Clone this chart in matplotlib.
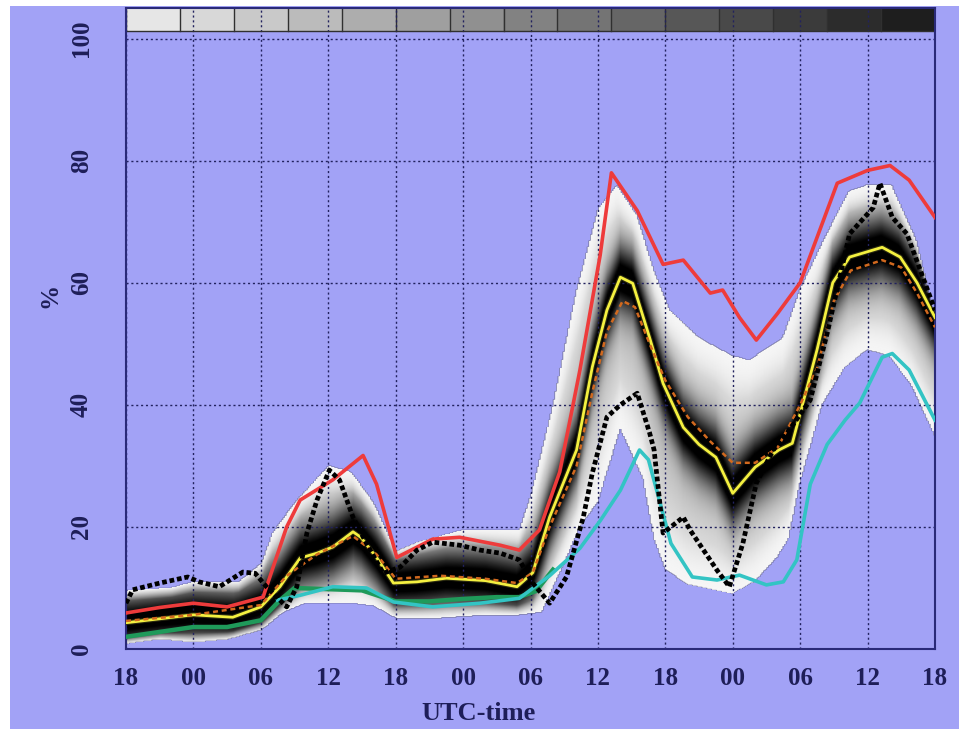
import numpy as np
import matplotlib
matplotlib.use("Agg")
import matplotlib.pyplot as plt
from matplotlib.patches import Rectangle

# forecast hours since 18 UTC of the first day
tick_hours = [0, 6, 12, 18, 24, 30, 36, 42, 48, 54, 60, 66, 72]
tick_labels = ["18", "00", "06", "12", "18", "00", "06", "12", "18", "00", "06", "12", "18"]

# ensemble maximum (red)
red_t = [0, 3, 6, 9, 12.2, 14.3, 15.5, 18.4, 21.1, 22.3, 24.1, 27.3, 29.7, 33.3, 35, 36.8,
         38.6, 40.4, 42.2, 43.2, 45.5, 47.8, 49.6, 52, 53.1, 54.6, 56.1, 58, 60, 63.3, 66,
         68, 69.7, 72]
red_v = [5.9, 6.8, 7.5, 6.9, 8.5, 20, 24.4, 27.7, 31.7, 27, 15, 18, 18.3, 17, 16.2, 19.5,
         29, 45.7, 64.5, 78, 71.8, 63, 63.7, 58.3, 58.8, 54.3, 50.6, 55, 60, 76.3, 78.4,
         79.2, 76.8, 70.7]

# ensemble minimum (cyan)
cyan_t = [13.5, 15.5, 18.4, 21.4, 23.8, 27.3, 31.5, 35, 37.7, 40.4, 42.2, 44, 45.7, 46.5,
          48.5, 50.4, 52.6, 54.6, 57, 58.5, 59.7, 60.9, 62.4, 64, 65.3, 67.3, 68.2, 69.7, 72]
cyan_v = [8.0, 8.8, 10.2, 10.0, 7.7, 6.9, 7.5, 8.3, 12, 16.5, 21, 26, 32.6, 31, 17.3, 11.8,
          11.3, 12.1, 10.5, 11, 14.6, 27, 33.5, 37.5, 40.3, 47.8, 48.4, 45.7, 37.5]

# lower percentile (green)
green_t = [0, 3, 6, 9, 12, 13.7, 15, 18, 21, 24, 27, 30, 33, 35, 36.5, 38]
green_v = [2.0, 2.8, 3.6, 3.6, 4.7, 8, 10, 9.8, 9.6, 7.8, 7.8, 8.2, 8.5, 8.5, 9.5, 13]

# ensemble mean (yellow)
mean_t = [0, 6, 9.5, 12, 13.7, 14.3, 15.5, 17, 18.4, 20.2, 20.9, 22.3, 23.8, 25.9, 28.5, 32,
          34.8, 36.2, 37.7, 40.1, 41.5, 42.8, 44, 45.1, 46.6, 47.8, 49.6, 51, 52.5, 54, 56,
          58.1, 59.3, 61.5, 62.9, 64.4, 67.3, 68.9, 70.4, 72]
mean_v = [4.3, 5.6, 5.2, 6.9, 10.2, 11.8, 14.9, 15.7, 16.7, 19.2, 18.3, 15, 10.8, 11, 11.6,
          11.2, 10.2, 12.5, 21.6, 32.6, 46.2, 55.5, 60.9, 59.9, 51, 43.5, 36.3, 33.5, 31.4,
          25.5, 29.8, 32.6, 33.7, 49, 60, 64.2, 65.8, 64.2, 60, 54.3]

# ensemble median (orange, dashed)
med_t = [0, 6, 12, 14.3, 17, 20.2, 22.3, 24, 28, 32, 34.8, 36.2, 37.7, 40.1, 41.5, 42.8,
         44.2, 45.3, 46.6, 48, 50, 52, 54, 56, 58, 60, 61.5, 63, 64.5, 67.3, 69, 70.4, 72]
med_v = [4.6, 5.6, 7.2, 12, 15.5, 18.5, 15.5, 11.5, 12, 11.5, 10.8, 12.5, 20, 30, 42, 52,
         57, 56, 50, 44, 38, 34, 30.5, 30.5, 33, 40, 46, 57, 62, 63.7, 62.5, 58.3, 52.7]

# observation (black)
obs_t = [0, 0.6, 3, 5.5, 6.5, 8.3, 10.4, 11.5, 12.5, 13.7, 14.3, 15.2, 16.1, 17, 18.1, 19,
         20.2, 21.4, 22.9, 24.4, 25.9, 27.3, 29.7, 31.5, 33.3, 35, 36.2, 37.7, 39.2, 40.7,
         41.5, 42.8, 44, 45.5, 46.6, 47, 47.8, 49.6, 50.2, 52.6, 53.7, 54.9, 56.1, 57.6, 59,
         60.9, 62.4, 64.4, 66.5, 67.1, 68.2, 69.5, 70.6, 72]
obs_v = [7.5, 9.7, 10.8, 11.8, 11, 10.2, 12.6, 12.4, 10.2, 8, 6.9, 10.2, 19, 24.4, 29.3,
         27.7, 21.6, 17.3, 12.4, 13.4, 16.2, 17.5, 17, 16.2, 15.7, 14.6, 10.8, 7.5, 11.8,
         21.6, 28.8, 38, 40, 41.9, 35.4, 32.6, 19, 21.6, 19.5, 12.9, 10.2, 17.3, 27.2, 32.6,
         35.8, 40.8, 51.7, 68, 72.3, 76.3, 70.7, 68, 62.5, 55.5]

# outer edges of the ensemble cloud
hi_t = [0, 4, 6, 10, 12, 13, 15, 18, 20, 22, 24, 26, 28, 30, 34, 35, 36, 38, 40, 42, 43.7,
        45.5, 47, 48.4, 51, 54, 55.5, 58.5, 60, 62.4, 64.4, 66, 68.2, 70.4, 72]
hi_v = [9.5, 10, 11, 11, 14, 19, 24, 30, 29, 24, 16, 17.5, 18.5, 19.5, 19.5, 19.5, 25, 40,
        58, 72, 76, 71, 62, 55.5, 51, 48, 47.3, 51, 58.8, 68, 75, 76, 76, 67, 55]
lo_t = [0, 3, 6, 9, 12, 14, 16, 20, 22, 24, 28, 32, 35, 37, 39, 40.4, 42, 44, 46, 47, 48,
        50, 54, 56, 58, 59, 60, 62, 64, 66, 68, 70, 72]
lo_v = [0.8, 1.5, 1.0, 1.5, 3, 6, 7.5, 7.5, 7, 5, 5, 5.5, 5.5, 6, 14, 20, 24, 36, 28, 18,
        13, 10.5, 9, 11, 15, 18, 27, 40, 46, 49, 48, 43, 35]

n_classes = 15

bg = "#a2a2f6"
navy = "#1e1e58"
plt.rcParams["font.family"] = ["Liberation Serif", "DejaVu Serif"]
plt.rcParams["font.weight"] = "bold"

fig = plt.figure(figsize=(9.59, 7.29), dpi=100, facecolor="white")
fig.patches.append(Rectangle((10 / 959, 0), 1, 1 - 6 / 729, transform=fig.transFigure,
                             facecolor=bg, edgecolor="none", zorder=-10))
ax = fig.add_axes([126 / 959, 80 / 729, 809 / 959, 641 / 729])
ax.set_facecolor(bg)

# shaded ensemble density
tg = np.linspace(0, 72, 500)
yg = np.linspace(0, 100, 600)
T, Y = np.meshgrid(tg, yg)
top = np.interp(T, hi_t, hi_v)
bot = np.interp(T, lo_t, lo_v)
mid = np.interp(T, mean_t, mean_v)
d = Y - mid
frac = np.where(d > 0, d / np.maximum(top - mid, 0.5), -d / np.maximum(mid - bot, 0.5))
dark = 0.8 * np.exp(-(d / 5.5) ** 2) + 0.35 * np.clip(1 - frac, 0, 1)
dark = np.clip(dark * np.clip((1 - frac) * 3, 0, 1), 0, 1)
dens = np.ma.masked_where((Y > top) | (Y < bot), dark)
cmap = plt.get_cmap("gray_r").copy()
cmap.set_bad(alpha=0)
ax.imshow(dens, extent=(0, 72, 0, 100), origin="lower", aspect="auto", cmap=cmap,
          vmin=-0.04, vmax=1, interpolation="bilinear", zorder=0)

# probability class strip along the top
strip = np.linspace(0.9, 0.12, n_classes)[None, :]
ax.imshow(strip, extent=(0, 72, 101.2, 104.8), aspect="auto", cmap="gray", vmin=0,
          vmax=1, interpolation="nearest", zorder=0)
for k in range(n_classes + 1):
    ax.plot([72 * k / n_classes] * 2, [101.2, 104.8], color="#303030", lw=1, zorder=1)
ax.axhline(101.2, color="#303030", lw=1)

ax.plot(green_t, green_v, color="#1f9a5a", lw=3.2, zorder=3)
ax.plot(cyan_t, cyan_v, color="#33c4c4", lw=2.6, zorder=3)
ax.plot(red_t, red_v, color="#ee3b3b", lw=2.6, zorder=3)
ax.plot(mean_t, mean_v, color="#2a2a10", lw=3.6, zorder=4)
ax.plot(mean_t, mean_v, color="#f4f040", lw=2.0, zorder=4)
ax.plot(med_t, med_v, color="#d2691e", lw=1.8, ls=(0, (2, 1.5)), zorder=4)
ax.plot(obs_t, obs_v, color="black", lw=3.4, ls=(0, (1, 0.6)), zorder=5)

ax.set_xlim(0, 72)
ax.set_ylim(0, 105)
ax.set_xticks(tick_hours)
ax.set_xticklabels(tick_labels)
ax.set_yticks([0, 20, 40, 60, 80, 100])
ax.tick_params(length=0, labelsize=18, labelcolor=navy)
ax.tick_params(axis="x", pad=13)
ax.tick_params(axis="y", pad=24)
for lab in ax.get_yticklabels():
    lab.set_rotation(90)
    lab.set_va("center")

ax.set_axisbelow("line")
ax.grid(True, color="#22225e", lw=1, ls=(0, (1.5, 2)))
for s in ax.spines.values():
    s.set_color("#2a2a78")
    s.set_linewidth(1.5)

fig.text(50 / 959, 1 - 295 / 729, "%", rotation=90, ha="center", va="center",
         fontsize=18, color=navy)
fig.text(478 / 959, 1 - 713 / 729, "UTC-time", ha="center", va="center",
         fontsize=19, color=navy)

fig.savefig("out.png", dpi=100, facecolor=fig.get_facecolor())
